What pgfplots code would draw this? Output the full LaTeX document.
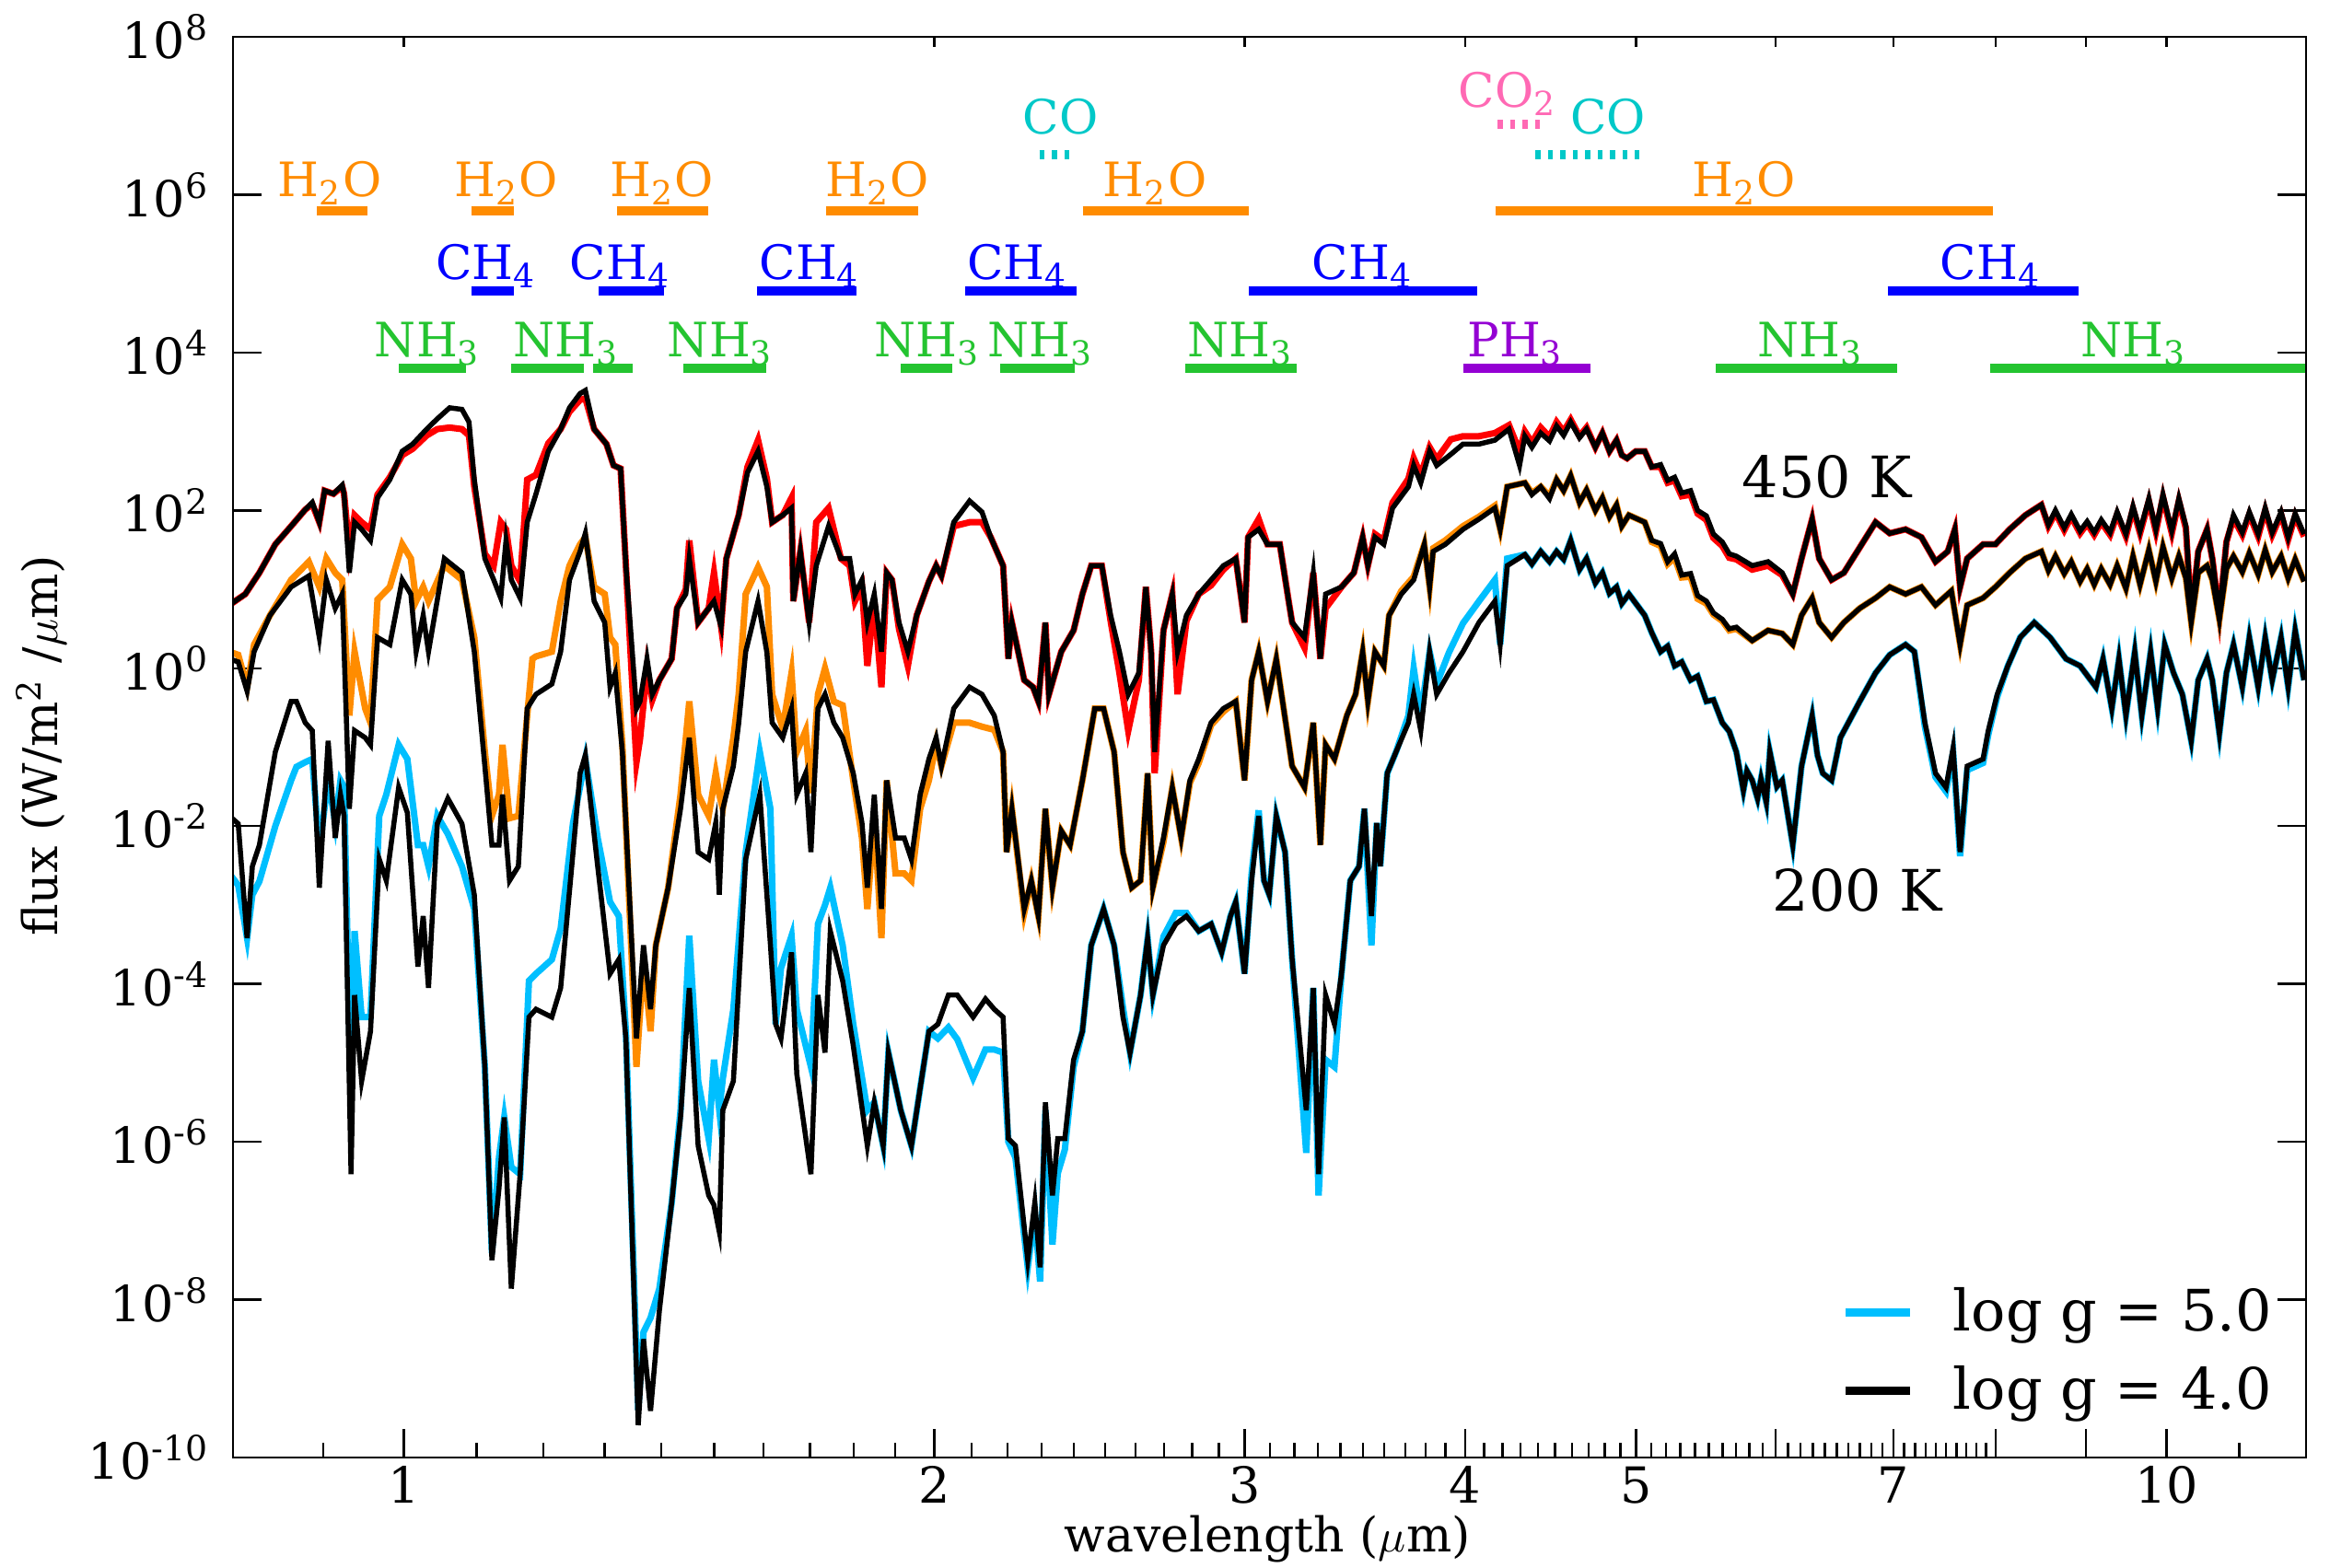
\documentclass[border=0pt]{standalone}
\usepackage{fontspec}
\setmainfont{DejaVu Serif}
\usepackage{pgfplots}
\pgfplotsset{compat=1.18}
\usepackage{pgfplotstable}

\definecolor{cred}{RGB}{255,0,0}
\definecolor{corange}{RGB}{255,140,0}
\definecolor{csky}{RGB}{0,191,255}
\definecolor{cblue}{RGB}{0,0,255}
\definecolor{cgreen}{RGB}{36,196,48}
\definecolor{cpurple}{RGB}{148,0,211}
\definecolor{ccyan}{RGB}{0,200,200}
\definecolor{cpink}{RGB}{255,105,180}

\newcommand{\tickfont}{\fontsize{10.8}{13}\selectfont}
\newcommand{\labfont}{\fontsize{10.4}{12.5}\selectfont}
\newcommand{\molfont}{\fontsize{10.3}{12}\selectfont}
\newcommand{\bigfont}{\fontsize{12.4}{15}\selectfont}

% columns: log10(wavelength/um), log10 flux for log g = 4.0 (g4) and log g = 5.0 (g5)
\pgfplotstableread{
lx g4 g5
-0.099 0.80 0.80
-0.090 0.94 0.94
-0.082 1.21 1.21
-0.073 1.57 1.57
-0.064 1.80 1.80
-0.056 2.01 2.01
-0.052 2.10 2.08
-0.048 1.85 1.85
-0.045 2.25 2.25
-0.040 2.21 2.21
-0.035 2.32 2.30
-0.034 2.21 2.21
-0.031 1.21 1.50
-0.028 1.85 1.94
-0.024 1.76 1.85
-0.019 1.62 1.76
-0.015 2.16 2.20
-0.008 2.39 2.42
-0.001 2.75 2.70
0.005 2.84 2.78
0.013 3.03 2.95
0.019 3.16 3.03
0.026 3.30 3.05
0.033 3.28 3.03
0.037 3.12 2.95
0.040 2.39 2.30
0.046 1.39 1.45
0.051 1.12 1.30
0.055 0.89 1.85
0.058 1.62 1.76
0.061 1.12 1.30
0.066 0.89 1.10
0.070 1.85 2.39
0.075 2.21 2.45
0.082 2.75 2.85
0.089 3.03 3.03
0.094 3.30 3.25
0.100 3.48 3.40
0.103 3.52 3.42
0.108 3.03 3.03
0.115 2.84 2.84
0.119 2.57 2.57
0.123 2.53 2.53
0.126 1.30 1.30
0.132 -0.51 -1.19
0.134 -0.42 -0.90
0.138 0.12 0.00
0.141 -0.33 -0.40
0.145 -0.15 -0.15
0.152 0.12 0.12
0.155 0.76 0.76
0.160 0.94 1.00
0.162 1.39 1.62
0.167 0.58 0.58
0.173 0.76 0.76
0.176 0.85 1.21
0.180 0.53 0.53
0.183 1.39 1.39
0.190 1.94 1.94
0.195 2.48 2.55
0.201 2.75 2.89
0.206 2.30 2.40
0.209 1.85 1.85
0.215 1.94 1.94
0.220 2.03 2.16
0.221 0.85 0.85
0.225 1.48 1.48
0.230 0.58 0.58
0.234 1.30 1.85
0.241 1.80 2.03
0.248 1.39 1.39
0.253 1.39 1.30
0.256 0.94 0.85
0.260 1.12 1.03
0.263 0.58 0.03
0.267 0.94 0.85
0.271 0.21 -0.24
0.274 1.21 1.21
0.277 1.12 1.12
0.281 0.58 0.50
0.286 0.21 0.03
0.291 0.67 0.67
0.298 1.10 1.10
0.302 1.30 1.30
0.305 1.17 1.17
0.312 1.85 1.80
0.321 2.12 1.85
0.328 1.98 1.85
0.333 1.66 1.66
0.340 1.30 1.30
0.343 0.12 0.12
0.345 0.58 0.58
0.352 -0.15 -0.15
0.357 -0.24 -0.24
0.360 -0.42 -0.42
0.364 0.58 0.58
0.366 -0.33 -0.33
0.373 0.21 0.21
0.380 0.48 0.48
0.385 0.94 0.94
0.390 1.30 1.30
0.396 1.30 1.30
0.401 0.67 0.60
0.406 0.21 -0.06
0.411 -0.33 -0.79
0.417 -0.06 -0.15
0.421 1.03 1.03
0.424 0.21 0.21
0.426 -1.06 -1.33
0.431 0.48 0.48
0.436 0.94 0.94
0.439 0.21 -0.33
0.444 0.67 0.60
0.451 0.94 0.94
0.458 1.12 1.05
0.465 1.30 1.25
0.472 1.39 1.39
0.477 0.58 0.58
0.479 1.66 1.66
0.485 1.76 1.89
0.490 1.57 1.57
0.497 1.57 1.57
0.502 0.85 0.85
0.504 0.58 0.58
0.511 0.39 0.26
0.516 1.21 1.21
0.520 0.12 0.12
0.523 0.94 0.76
0.532 1.03 1.03
0.539 1.21 1.21
0.544 1.66 1.66
0.547 1.30 1.30
0.551 1.66 1.70
0.556 1.57 1.62
0.561 2.03 2.10
0.570 2.30 2.40
0.573 2.57 2.66
0.577 2.35 2.45
0.582 2.75 2.80
0.586 2.57 2.65
0.594 2.71 2.90
0.601 2.84 2.94
0.610 2.84 2.94
0.619 2.89 2.98
0.627 3.03 3.08
0.633 2.57 2.75
0.636 2.94 3.00
0.640 2.80 2.86
0.645 2.98 3.05
0.650 2.88 2.93
0.654 3.07 3.12
0.658 2.95 3.00
0.662 3.12 3.15
0.667 2.92 2.94
0.671 3.03 3.05
0.676 2.80 2.80
0.680 2.98 2.98
0.684 2.75 2.75
0.688 2.89 2.89
0.691 2.70 2.70
0.694 2.66 2.66
0.699 2.75 2.75
0.704 2.75 2.75
0.708 2.55 2.55
0.713 2.58 2.55
0.717 2.38 2.35
0.721 2.42 2.38
0.725 2.22 2.18
0.730 2.25 2.20
0.734 2.00 1.96
0.739 1.93 1.88
0.743 1.70 1.65
0.748 1.60 1.55
0.752 1.45 1.40
0.756 1.42 1.38
0.765 1.30 1.25
0.774 1.35 1.30
0.782 1.21 1.18
0.788 0.94 0.94
0.793 1.39 1.39
0.799 1.89 1.89
0.803 1.39 1.39
0.810 1.12 1.12
0.817 1.21 1.21
0.826 1.53 1.53
0.835 1.85 1.85
0.843 1.71 1.71
0.852 1.76 1.76
0.861 1.66 1.66
0.869 1.35 1.35
0.876 1.48 1.48
0.880 1.76 1.76
0.883 1.03 1.03
0.887 1.39 1.39
0.896 1.57 1.57
0.903 1.57 1.57
0.911 1.76 1.76
0.920 1.94 1.94
0.929 2.07 2.07
0.933 1.82 1.80
0.937 2.00 1.97
0.942 1.78 1.75
0.946 1.95 1.92
0.951 1.74 1.71
0.955 1.86 1.83
0.959 1.72 1.69
0.963 1.88 1.85
0.968 1.72 1.69
0.972 1.98 1.95
0.977 1.70 1.67
0.981 2.05 2.02
0.985 1.74 1.71
0.990 2.15 2.12
0.994 1.76 1.73
0.998 2.20 2.17
1.003 1.74 1.71
1.007 2.15 2.12
1.011 1.80 1.77
1.014 0.67 0.67
1.018 1.48 1.48
1.023 1.76 1.76
1.026 1.39 1.39
1.030 0.67 0.67
1.034 1.60 1.60
1.038 1.94 1.90
1.043 1.72 1.69
1.047 1.98 1.95
1.052 1.70 1.67
1.056 2.03 2.00
1.060 1.72 1.69
1.065 1.98 1.95
1.069 1.66 1.63
1.073 1.96 1.93
1.078 1.70 1.67
}\tA

\pgfplotstableread{
lx g4 g5
-0.099 0.12 0.21
-0.094 0.08 0.17
-0.089 -0.29 -0.24
-0.085 0.21 0.30
-0.076 0.67 0.67
-0.064 1.03 1.12
-0.054 1.17 1.35
-0.048 0.39 1.03
-0.044 1.12 1.39
-0.039 0.76 1.21
-0.035 0.94 1.12
-0.031 -1.78 -0.60
-0.028 -0.79 0.21
-0.022 -0.88 -0.51
-0.019 -0.97 -0.69
-0.015 0.39 0.87
-0.008 0.30 1.03
-0.001 1.12 1.57
0.004 0.94 1.39
0.007 0.21 0.85
0.011 0.67 1.03
0.014 0.21 0.85
0.023 1.39 1.30
0.033 1.21 1.12
0.040 0.21 0.39
0.046 -1.24 -1.06
0.050 -2.24 -1.87
0.054 -2.24 -1.60
0.056 -1.60 -0.97
0.060 -2.69 -1.90
0.065 -2.51 -1.87
0.070 -0.51 -0.60
0.073 -0.40 0.12
0.075 -0.33 0.15
0.084 -0.20 0.21
0.089 0.21 0.85
0.094 1.12 1.30
0.100 1.48 1.57
0.103 1.71 1.66
0.108 0.85 1.03
0.114 0.58 0.94
0.117 -0.24 0.39
0.120 -0.06 0.30
0.124 -1.06 -0.97
0.132 -4.69 -5.05
0.136 -3.51 -3.69
0.140 -4.32 -4.60
0.143 -3.51 -3.51
0.150 -2.78 -2.78
0.157 -1.78 -1.60
0.162 -0.88 -0.42
0.167 -2.33 -1.60
0.173 -2.42 -1.87
0.177 -1.96 -1.33
0.179 -2.87 -1.60
0.181 -1.78 -1.78
0.187 -1.24 -0.88
0.190 -0.70 -0.33
0.194 0.21 0.94
0.201 0.85 1.28
0.206 0.20 1.03
0.209 -0.69 -0.33
0.215 -0.88 -0.76
0.220 -0.51 -0.06
0.223 -1.60 -1.06
0.228 -1.33 -0.79
0.231 -2.33 -1.58
0.235 -0.51 -0.33
0.239 -0.33 0.00
0.244 -0.69 -0.42
0.249 -0.88 -0.47
0.255 -1.33 -1.42
0.260 -1.96 -2.15
0.263 -2.78 -3.05
0.267 -1.60 -1.87
0.271 -3.05 -3.42
0.274 -1.42 -1.42
0.279 -2.15 -2.60
0.284 -2.15 -2.60
0.288 -2.42 -2.69
0.293 -1.60 -1.78
0.298 -1.15 -1.42
0.302 -0.88 -0.95
0.305 -1.24 -1.24
0.312 -0.51 -0.69
0.321 -0.24 -0.69
0.328 -0.33 -0.74
0.335 -0.60 -0.78
0.340 -1.06 -1.06
0.342 -2.33 -2.33
0.345 -1.78 -1.78
0.352 -3.05 -3.10
0.356 -2.69 -2.69
0.360 -3.14 -3.14
0.364 -1.78 -1.78
0.368 -2.78 -2.78
0.373 -2.06 -2.06
0.378 -2.24 -2.24
0.385 -1.42 -1.42
0.392 -0.51 -0.51
0.397 -0.51 -0.51
0.403 -1.06 -1.06
0.408 -2.33 -2.33
0.413 -2.78 -2.78
0.418 -2.69 -2.69
0.422 -1.33 -1.33
0.425 -2.78 -2.78
0.431 -2.15 -2.20
0.436 -1.51 -1.51
0.441 -2.15 -2.15
0.446 -1.42 -1.45
0.451 -1.15 -1.20
0.458 -0.69 -0.72
0.465 -0.51 -0.55
0.472 -0.42 -0.42
0.477 -1.42 -1.42
0.481 -0.15 -0.15
0.485 0.21 0.21
0.490 -0.42 -0.42
0.495 0.12 0.12
0.504 -1.24 -1.24
0.511 -1.51 -1.51
0.516 -0.69 -0.69
0.520 -2.24 -2.24
0.523 -0.97 -0.97
0.528 -1.15 -1.15
0.535 -0.60 -0.60
0.540 -0.33 -0.33
0.544 0.21 0.21
0.547 -0.42 -0.42
0.551 0.21 0.21
0.556 0.03 0.03
0.559 0.67 0.67
0.566 0.94 0.98
0.573 1.12 1.16
0.579 1.57 1.57
0.582 1.03 1.03
0.584 1.48 1.52
0.591 1.57 1.62
0.601 1.76 1.80
0.610 1.89 1.92
0.619 2.03 2.06
0.622 1.76 1.76
0.626 2.30 2.30
0.636 2.35 2.35
0.640 2.20 2.22
0.645 2.30 2.30
0.650 2.15 2.18
0.654 2.39 2.39
0.658 2.25 2.25
0.662 2.44 2.44
0.667 2.10 2.10
0.671 2.26 2.26
0.676 2.00 2.00
0.680 2.16 2.16
0.684 1.92 1.92
0.688 2.07 2.07
0.691 1.80 1.80
0.695 1.94 1.94
0.704 1.85 1.85
0.708 1.62 1.60
0.713 1.58 1.55
0.717 1.35 1.32
0.721 1.45 1.40
0.725 1.18 1.15
0.730 1.20 1.16
0.734 0.92 0.88
0.739 0.85 0.82
0.743 0.70 0.68
0.748 0.62 0.60
0.752 0.50 0.48
0.756 0.52 0.50
0.765 0.35 0.35
0.774 0.48 0.48
0.782 0.44 0.44
0.788 0.30 0.30
0.793 0.67 0.67
0.799 0.89 0.89
0.803 0.58 0.58
0.810 0.39 0.39
0.817 0.58 0.58
0.826 0.76 0.76
0.835 0.89 0.89
0.843 1.03 1.03
0.852 0.94 0.94
0.861 1.03 1.03
0.869 0.80 0.80
0.878 0.98 0.98
0.883 0.30 0.30
0.887 0.80 0.80
0.896 0.89 0.89
0.903 1.03 1.03
0.911 1.21 1.21
0.920 1.39 1.39
0.929 1.48 1.48
0.933 1.24 1.24
0.937 1.42 1.42
0.942 1.20 1.20
0.946 1.35 1.35
0.951 1.10 1.10
0.955 1.26 1.26
0.959 1.06 1.06
0.963 1.26 1.26
0.968 1.06 1.06
0.972 1.30 1.30
0.977 1.01 1.01
0.981 1.42 1.42
0.985 1.06 1.06
0.990 1.50 1.50
0.994 1.10 1.10
0.998 1.54 1.54
1.003 1.14 1.14
1.007 1.42 1.42
1.011 1.14 1.14
1.014 0.58 0.58
1.018 1.21 1.21
1.023 1.30 1.30
1.026 1.12 1.12
1.030 0.62 0.62
1.034 1.26 1.26
1.038 1.42 1.42
1.043 1.22 1.22
1.047 1.46 1.46
1.052 1.19 1.19
1.056 1.50 1.50
1.060 1.22 1.22
1.065 1.42 1.42
1.069 1.14 1.14
1.073 1.38 1.38
1.078 1.10 1.10
}\tB

\pgfplotstableread{
lx g4 g5
-0.099 -1.87 -2.60
-0.094 -1.97 -2.75
-0.089 -3.42 -3.42
-0.086 -2.51 -2.87
-0.082 -2.24 -2.70
-0.073 -1.06 -2.00
-0.064 -0.42 -1.42
-0.061 -0.42 -1.25
-0.056 -0.69 -1.19
-0.052 -0.79 -1.15
-0.048 -2.78 -2.30
-0.043 -0.92 -1.40
-0.039 -2.15 -1.96
-0.036 -1.60 -1.42
-0.034 -1.87 -1.50
-0.030 -6.41 -5.50
-0.028 -4.14 -3.33
-0.024 -5.23 -4.42
-0.019 -4.60 -4.42
-0.014 -2.42 -1.87
-0.010 -2.69 -1.60
-0.003 -1.51 -0.97
0.002 -1.83 -1.15
0.008 -3.78 -2.24
0.011 -3.14 -2.24
0.014 -4.05 -2.51
0.019 -1.97 -1.87
0.025 -1.65 -2.10
0.033 -1.97 -2.51
0.040 -2.87 -3.05
0.046 -5.05 -5.05
0.050 -7.50 -7.41
0.054 -6.59 -6.20
0.057 -5.69 -5.69
0.061 -7.86 -6.32
0.066 -6.41 -6.41
0.071 -4.42 -3.96
0.075 -4.32 -3.87
0.084 -4.42 -3.69
0.089 -4.05 -3.30
0.096 -2.33 -1.96
0.100 -1.33 -1.50
0.103 -1.10 -1.15
0.110 -2.51 -2.15
0.117 -3.87 -2.96
0.122 -3.69 -3.14
0.126 -4.69 -4.60
0.133 -9.59 -9.40
0.136 -8.50 -8.41
0.140 -9.41 -8.23
0.145 -8.14 -7.86
0.152 -6.77 -6.77
0.157 -5.69 -5.60
0.162 -4.05 -3.39
0.167 -6.05 -5.23
0.173 -6.68 -5.96
0.176 -6.80 -4.96
0.179 -7.14 -5.60
0.181 -5.60 -5.20
0.187 -5.23 -4.32
0.194 -2.42 -2.33
0.202 -1.60 -1.06
0.208 -3.50 -1.78
0.211 -4.51 -4.51
0.214 -4.69 -3.80
0.220 -3.60 -3.39
0.223 -5.14 -4.32
0.231 -6.41 -5.05
0.235 -4.14 -3.24
0.239 -4.87 -3.00
0.242 -3.33 -2.78
0.249 -3.96 -3.51
0.255 -4.78 -4.51
0.263 -6.05 -5.60
0.267 -5.50 -5.50
0.272 -6.05 -6.05
0.275 -4.87 -4.87
0.282 -5.60 -5.60
0.288 -6.05 -6.05
0.293 -5.32 -5.32
0.298 -4.60 -4.60
0.303 -4.51 -4.69
0.309 -4.14 -4.55
0.314 -4.14 -4.70
0.323 -4.42 -5.19
0.330 -4.19 -4.83
0.335 -4.32 -4.83
0.340 -4.42 -4.87
0.343 -5.96 -6.00
0.347 -6.05 -6.20
0.354 -7.50 -7.59
0.358 -6.77 -6.90
0.361 -7.59 -7.77
0.364 -5.50 -5.60
0.368 -6.68 -7.30
0.371 -5.96 -6.40
0.375 -5.96 -6.10
0.380 -4.96 -5.05
0.385 -4.60 -4.60
0.390 -3.51 -3.51
0.397 -3.05 -3.05
0.403 -3.51 -3.51
0.408 -4.42 -4.30
0.412 -4.87 -4.87
0.418 -4.14 -4.14
0.422 -3.42 -3.42
0.425 -4.14 -4.14
0.431 -3.51 -3.40
0.438 -3.24 -3.10
0.444 -3.14 -3.10
0.451 -3.33 -3.33
0.458 -3.24 -3.24
0.464 -3.60 -3.60
0.469 -3.14 -3.14
0.472 -2.96 -2.96
0.477 -3.87 -3.87
0.481 -2.69 -2.60
0.485 -1.87 -1.80
0.488 -2.69 -2.69
0.491 -2.87 -2.87
0.495 -1.87 -1.87
0.500 -2.33 -2.33
0.504 -3.69 -3.69
0.512 -5.60 -6.14
0.516 -4.05 -4.05
0.519 -6.41 -6.68
0.523 -4.14 -4.96
0.528 -4.51 -5.05
0.532 -3.87 -3.87
0.537 -2.69 -2.69
0.542 -2.51 -2.51
0.545 -1.78 -1.78
0.549 -3.14 -3.51
0.552 -1.96 -1.96
0.554 -2.51 -2.51
0.558 -1.33 -1.33
0.563 -1.06 -1.06
0.570 -0.69 -0.60
0.573 -0.33 0.00
0.577 -0.79 -0.60
0.582 0.21 0.21
0.586 -0.33 -0.20
0.593 -0.06 0.20
0.601 0.21 0.57
0.610 0.58 0.85
0.619 0.85 1.12
0.622 0.30 0.30
0.626 1.30 1.39
0.636 1.44 1.44
0.640 1.32 1.32
0.645 1.48 1.48
0.650 1.35 1.35
0.654 1.48 1.48
0.658 1.38 1.38
0.662 1.62 1.62
0.667 1.25 1.25
0.671 1.39 1.39
0.676 1.08 1.08
0.680 1.21 1.21
0.684 0.95 0.95
0.688 1.03 1.03
0.691 0.82 0.82
0.695 0.94 0.94
0.704 0.67 0.67
0.708 0.45 0.45
0.713 0.21 0.21
0.717 0.28 0.28
0.721 0.03 0.03
0.725 0.08 0.08
0.730 -0.15 -0.15
0.734 -0.10 -0.10
0.739 -0.42 -0.42
0.743 -0.40 -0.40
0.748 -0.69 -0.69
0.752 -0.80 -0.80
0.756 -1.06 -1.06
0.760 -1.55 -1.55
0.762 -1.30 -1.30
0.765 -1.42 -1.42
0.768 -1.65 -1.65
0.770 -1.40 -1.40
0.773 -1.70 -1.70
0.775 -1.06 -1.06
0.779 -1.50 -1.50
0.782 -1.42 -1.42
0.788 -2.24 -2.24
0.793 -1.24 -1.24
0.799 -0.60 -0.60
0.802 -1.10 -1.10
0.805 -1.33 -1.33
0.810 -1.42 -1.42
0.815 -0.88 -0.88
0.826 -0.42 -0.42
0.835 -0.06 -0.06
0.843 0.17 0.17
0.852 0.30 0.30
0.857 0.21 0.21
0.863 -0.69 -0.74
0.869 -1.33 -1.38
0.875 -1.51 -1.56
0.879 -1.01 -1.06
0.883 -2.33 -2.38
0.887 -1.24 -1.29
0.896 -1.15 -1.20
0.899 -0.79 -0.84
0.904 -0.33 -0.36
0.910 0.03 0.03
0.917 0.39 0.39
0.925 0.58 0.58
0.934 0.39 0.39
0.943 0.12 0.12
0.951 0.03 0.03
0.960 -0.24 -0.24
0.964 0.12 0.12
0.969 -0.51 -0.51
0.973 0.12 0.12
0.977 -0.60 -0.60
0.982 0.21 0.21
0.986 -0.60 -0.60
0.991 0.21 0.21
0.995 -0.51 -0.51
0.999 0.30 0.30
1.004 -0.06 -0.06
1.009 -0.33 -0.33
1.014 -0.92 -0.92
1.018 -0.15 -0.15
1.023 0.12 0.12
1.026 -0.15 -0.15
1.030 -0.83 -0.83
1.034 -0.06 -0.06
1.038 0.30 0.30
1.043 -0.24 -0.24
1.047 0.39 0.39
1.052 -0.24 -0.24
1.056 0.39 0.39
1.060 -0.15 -0.15
1.065 0.39 0.39
1.069 -0.24 -0.24
1.073 0.48 0.48
1.078 -0.15 -0.15
}\tC

\begin{document}
\begin{tikzpicture}
\useasboundingbox (-50.6pt,-23.8pt) rectangle (455.4pt,316.6pt);
\begin{axis}[
  at={(0,0)}, anchor=south west,
  scale only axis, width=450.2pt, height=308.6pt,
  xmode=log, ymode=log,
  xmin=0.8, xmax=12, ymin=1e-10, ymax=1e8,
  xtick={1,2,3,4,5,7,10}, xticklabels={1,2,3,4,5,7,10},
  extra x ticks={6,8,9}, extra x tick labels={},
  minor xtick={0.9,1.1,1.2,1.3,1.4,1.5,1.6,1.7,1.8,1.9,2.1,2.2,2.3,2.4,2.5,2.6,2.7,2.8,2.9,3.1,3.2,3.3,3.4,3.5,3.6,3.7,3.8,3.9,4.1,4.2,4.3,4.4,4.5,4.6,4.7,4.8,4.9,5.1,5.2,5.3,5.4,5.5,5.6,5.7,5.8,5.9,6.1,6.2,6.3,6.4,6.5,6.6,6.7,6.8,6.9,7.1,7.2,7.3,7.4,7.5,7.6,7.7,7.8,7.9,11},
  xtick pos=left,
  ytick={1e-10,1e-8,1e-6,1e-4,1e-2,1,1e2,1e4,1e6,1e8},
  yticklabels={10\textsuperscript{-10},10\textsuperscript{-8},10\textsuperscript{-6},10\textsuperscript{-4},10\textsuperscript{-2},10\textsuperscript{0},10\textsuperscript{2},10\textsuperscript{4},10\textsuperscript{6},10\textsuperscript{8}},
  yminorticks=false,
  ytick pos=both,
  tick align=inside,
  major tick length=6.3pt, minor tick length=3.2pt,
  tick style={black, line width=0.5pt},
  axis line style={line width=0.5pt},
  tick label style={font=\tickfont},
  xticklabel style={yshift=1.6pt},
  yticklabel style={xshift=-1.5pt},
  label style={font=\labfont},
  xlabel={wavelength ($\mu$m)},
  ylabel={flux (W/m\textsuperscript{2} /$\mu$m)},
  xlabel style={at={(axis description cs:0.499,-0.0575)}, anchor=center},
  ylabel style={at={(axis description cs:-0.0924,0.501)}, anchor=center},
  legend style={at={(axis description cs:0.9885,0.022)}, anchor=south east, draw=none, fill=none, font=\bigfont, row sep=2.1pt, column sep=6.5pt, inner sep=0pt},
  legend cell align=left,
  legend image code/.code={\draw[#1] (0pt,0pt) -- (14pt,0pt);},
]
\addlegendimage{csky, line width=1.8pt}
\addlegendentry{log g = 5.0}
\addlegendimage{black, line width=1.8pt}
\addlegendentry{log g = 4.0}

% log g = 5.0 spectra (drawn below)
\addplot[cred, line width=1.4pt, forget plot] table[x expr=10^(\thisrow{lx}), y expr=10^(\thisrow{g5})] {\tA};
\addplot[corange, line width=1.4pt, forget plot] table[x expr=10^(\thisrow{lx}), y expr=10^(\thisrow{g5})] {\tB};
\addplot[csky, line width=1.4pt, forget plot] table[x expr=10^(\thisrow{lx}), y expr=10^(\thisrow{g5})] {\tC};
% log g = 4.0 spectra
\addplot[black, line width=1.1pt, forget plot] table[x expr=10^(\thisrow{lx}), y expr=10^(\thisrow{g4})] {\tA};
\addplot[black, line width=1.1pt, forget plot] table[x expr=10^(\thisrow{lx}), y expr=10^(\thisrow{g4})] {\tB};
\addplot[black, line width=1.1pt, forget plot] table[x expr=10^(\thisrow{lx}), y expr=10^(\thisrow{g4})] {\tC};

% absorption bands: H2O
\addplot[corange, line width=2pt, forget plot] coordinates {(0.893,6.3e5) (0.954,6.3e5)};
\addplot[corange, line width=2pt, forget plot] coordinates {(1.092,6.3e5) (1.155,6.3e5)};
\addplot[corange, line width=2pt, forget plot] coordinates {(1.321,6.3e5) (1.489,6.3e5)};
\addplot[corange, line width=2pt, forget plot] coordinates {(1.737,6.3e5) (1.959,6.3e5)};
\addplot[corange, line width=2pt, forget plot] coordinates {(2.427,6.3e5) (3.015,6.3e5)};
\addplot[corange, line width=2pt, forget plot] coordinates {(4.161,6.3e5) (7.97,6.3e5)};
% CH4
\addplot[cblue, line width=2pt, forget plot] coordinates {(1.092,6.0e4) (1.155,6.0e4)};
\addplot[cblue, line width=2pt, forget plot] coordinates {(1.289,6.0e4) (1.405,6.0e4)};
\addplot[cblue, line width=2pt, forget plot] coordinates {(1.586,6.0e4) (1.807,6.0e4)};
\addplot[cblue, line width=2pt, forget plot] coordinates {(2.081,6.0e4) (2.407,6.0e4)};
\addplot[cblue, line width=2pt, forget plot] coordinates {(3.015,6.0e4) (4.063,6.0e4)};
\addplot[cblue, line width=2pt, forget plot] coordinates {(6.947,6.0e4) (8.92,6.0e4)};
% NH3
\addplot[cgreen, line width=2pt, forget plot] coordinates {(0.994,6.3e3) (1.084,6.3e3)};
\addplot[cgreen, line width=2pt, forget plot] coordinates {(1.150,6.3e3) (1.265,6.3e3)};
\addplot[cgreen, line width=2pt, forget plot] coordinates {(1.281,6.3e3) (1.348,6.3e3)};
\addplot[cgreen, line width=2pt, forget plot] coordinates {(1.441,6.3e3) (1.605,6.3e3)};
\addplot[cgreen, line width=2pt, forget plot] coordinates {(1.915,6.3e3) (2.048,6.3e3)};
\addplot[cgreen, line width=2pt, forget plot] coordinates {(2.180,6.3e3) (2.402,6.3e3)};
\addplot[cgreen, line width=2pt, forget plot] coordinates {(2.776,6.3e3) (3.212,6.3e3)};
\addplot[cgreen, line width=2pt, forget plot] coordinates {(5.55,6.3e3) (7.03,6.3e3)};
\addplot[cgreen, line width=2pt, forget plot] coordinates {(7.94,6.3e3) (12,6.3e3)};
% PH3
\addplot[cpurple, line width=2pt, forget plot] coordinates {(3.99,6.3e3) (4.713,6.3e3)};
% CO and CO2
\addplot[ccyan, line width=2pt, dash pattern=on 1.1pt off 1.6pt, forget plot] coordinates {(2.294,3.2e6) (2.407,3.2e6)};
\addplot[ccyan, line width=2pt, dash pattern=on 1.1pt off 1.6pt, forget plot] coordinates {(4.386,3.2e6) (5.02,3.2e6)};
\addplot[cpink, line width=2pt, dash pattern=on 1.1pt off 1.6pt, forget plot] coordinates {(4.173,7.8e6) (4.429,7.8e6)};

% band labels
\begin{scope}[every node/.style={anchor=base, font=\molfont, inner sep=0pt}]
\node[text=corange] at (axis cs:0.908,9.5e5) {H\textsubscript{2}O};
\node[text=corange] at (axis cs:1.143,9.5e5) {H\textsubscript{2}O};
\node[text=corange] at (axis cs:1.401,9.5e5) {H\textsubscript{2}O};
\node[text=corange] at (axis cs:1.857,9.5e5) {H\textsubscript{2}O};
\node[text=corange] at (axis cs:2.668,9.5e5) {H\textsubscript{2}O};
\node[text=corange] at (axis cs:5.76,9.5e5) {H\textsubscript{2}O};
\node[text=cblue] at (axis cs:1.114,8.5e4) {CH\textsubscript{4}};
\node[text=cblue] at (axis cs:1.327,8.5e4) {CH\textsubscript{4}};
\node[text=cblue] at (axis cs:1.700,8.5e4) {CH\textsubscript{4}};
\node[text=cblue] at (axis cs:2.230,8.5e4) {CH\textsubscript{4}};
\node[text=cblue] at (axis cs:3.50,8.5e4) {CH\textsubscript{4}};
\node[text=cblue] at (axis cs:7.95,8.5e4) {CH\textsubscript{4}};
\node[text=cgreen] at (axis cs:1.032,8.9e3) {NH\textsubscript{3}};
\node[text=cgreen] at (axis cs:1.237,8.9e3) {NH\textsubscript{3}};
\node[text=cgreen] at (axis cs:1.513,8.9e3) {NH\textsubscript{3}};
\node[text=cgreen] at (axis cs:1.982,8.9e3) {NH\textsubscript{3}};
\node[text=cgreen] at (axis cs:2.299,8.9e3) {NH\textsubscript{3}};
\node[text=cgreen] at (axis cs:2.984,8.9e3) {NH\textsubscript{3}};
\node[text=cgreen] at (axis cs:6.28,8.9e3) {NH\textsubscript{3}};
\node[text=cgreen] at (axis cs:9.58,8.9e3) {NH\textsubscript{3}};
\node[text=cpurple] at (axis cs:4.274,8.9e3) {PH\textsubscript{3}};
\node[text=ccyan] at (axis cs:2.358,5.9e6) {CO};
\node[text=ccyan] at (axis cs:4.82,5.9e6) {CO};
\node[text=cpink] at (axis cs:4.23,1.29e7) {CO\textsubscript{2}};
\end{scope}
\node[anchor=base, font=\bigfont, inner sep=0pt] at (axis cs:6.42,145) {450 K};
\node[anchor=base, font=\bigfont, inner sep=0pt] at (axis cs:6.68,8.5e-4) {200 K};
\end{axis}
% short ticks along the top edge
\begin{axis}[
  at={(0,0)}, anchor=south west,
  scale only axis, width=450.2pt, height=308.6pt,
  xmode=log, ymode=log,
  xmin=0.8, xmax=12, ymin=1e-10, ymax=1e8,
  xtick={1,2,3,4,5,6,7,8,9,10}, xticklabels={}, minor xtick={},
  xtick pos=right, ytick=\empty,
  tick align=inside, major tick length=2.2pt,
  tick style={black, line width=0.5pt},
  axis line style={line width=0.5pt},
]
\end{axis}
\end{tikzpicture}
\end{document}
